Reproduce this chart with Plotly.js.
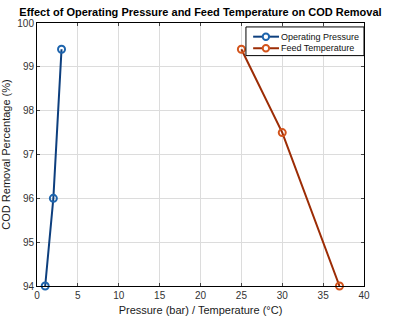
<!DOCTYPE html>
<html>
<head>
<meta charset="utf-8">
<script src="https://cdn.plot.ly/plotly-3.0.1.min.js"></script>
<style>html,body{margin:0;padding:0;background:#fff;}#chart{width:405px;height:321px;}</style>
</head>
<body>
<div id="chart"></div>
<script>
const pressureX = [1, 2, 3];
const pressureY = [94, 96, 99.4];
const tempX = [25, 30, 37];
const tempY = [99.4, 97.5, 94];
const xTicks = [0, 5, 10, 15, 20, 25, 30, 35, 40];
const yTicks = [94, 95, 96, 97, 98, 99, 100];
const seriesNames = ['Operating Pressure', 'Feed Temperature'];
const lineColors = ['#0d3f7e', '#9c2c05'];
const markerColors = ['#1d64ad', '#d3541c'];

const font = 'Liberation Sans, Arial, sans-serif';
const traces = [
  {x: pressureX, y: pressureY, name: seriesNames[0], mode: 'lines+markers', cliponaxis: false,
   line: {color: lineColors[0], width: 2},
   marker: {symbol: 'circle-open', size: 7, color: markerColors[0], line: {width: 2, color: markerColors[0]}}},
  {x: tempX, y: tempY, name: seriesNames[1], mode: 'lines+markers', cliponaxis: false,
   line: {color: lineColors[1], width: 2},
   marker: {symbol: 'circle-open', size: 7, color: markerColors[1], line: {width: 2, color: markerColors[1]}}}
];

// custom legend (box, line samples, markers, labels)
const lgX0 = 0.639, lgX1 = 1.0, lgY0 = 0.876, lgY1 = 0.985;
const rowY = [0.948, 0.904];
const shapes = [
  {type: 'rect', xref: 'paper', yref: 'paper', x0: lgX0, x1: lgX1, y0: lgY0, y1: lgY1,
   line: {color: '#000', width: 1}, fillcolor: '#fff', layer: 'above'}
];
const annotations = [];
seriesNames.forEach((n, i) => {
  shapes.push({type: 'line', xref: 'paper', yref: 'paper', x0: 0.661, x1: 0.740, y0: rowY[i], y1: rowY[i],
    line: {color: lineColors[i], width: 2}, layer: 'above'});
  shapes.push({type: 'circle', xref: 'paper', yref: 'paper', xsizemode: 'pixel', ysizemode: 'pixel',
    xanchor: 0.700, yanchor: rowY[i], x0: -3.2, x1: 3.2, y0: -3.2, y1: 3.2,
    line: {color: markerColors[i], width: 2}, fillcolor: '#fff', layer: 'above'});
  annotations.push({xref: 'paper', yref: 'paper', x: 0.744, y: rowY[i], xanchor: 'left', yanchor: 'middle',
    text: n, showarrow: false, borderpad: 0, font: {size: 9, color: '#111'}});
});

const layout = {
  width: 405, height: 321,
  margin: {l: 37, r: 41, t: 23, b: 35},
  paper_bgcolor: '#fff', plot_bgcolor: '#fff',
  font: {family: font, color: '#262626', size: 10},
  title: {text: '<b>Effect of Operating Pressure and Feed Temperature on COD Removal</b>',
          font: {family: font, size: 11, color: '#000'}, x: 0.495, xanchor: 'center', y: 0.962, yanchor: 'middle'},
  xaxis: {range: [0, 40], tickvals: xTicks, ticktext: xTicks.map(String),
          showgrid: true, gridcolor: '#dcdcdc', zeroline: false,
          showline: true, linecolor: '#000', linewidth: 1, mirror: 'ticks',
          ticks: 'inside', ticklen: 3, tickcolor: '#444',
          tickfont: {size: 10, color: '#333'},
          title: {text: 'Pressure (bar) / Temperature (°C)', font: {size: 11, color: '#1a1a1a'}, standoff: 6}},
  yaxis: {range: [94, 100], tickvals: yTicks, ticktext: yTicks.map(String),
          showgrid: true, gridcolor: '#dcdcdc', zeroline: false,
          showline: true, linecolor: '#000', linewidth: 1, mirror: 'ticks',
          ticks: 'inside', ticklen: 3, tickcolor: '#444',
          tickfont: {size: 10, color: '#333'},
          title: {text: 'COD Removal Percentage (%)', font: {size: 11, color: '#1a1a1a'}, standoff: 5}},
  showlegend: false,
  shapes: shapes,
  annotations: annotations
};
Plotly.newPlot('chart', traces, layout, {displayModeBar: false, staticPlot: true});
</script>
</body>
</html>
